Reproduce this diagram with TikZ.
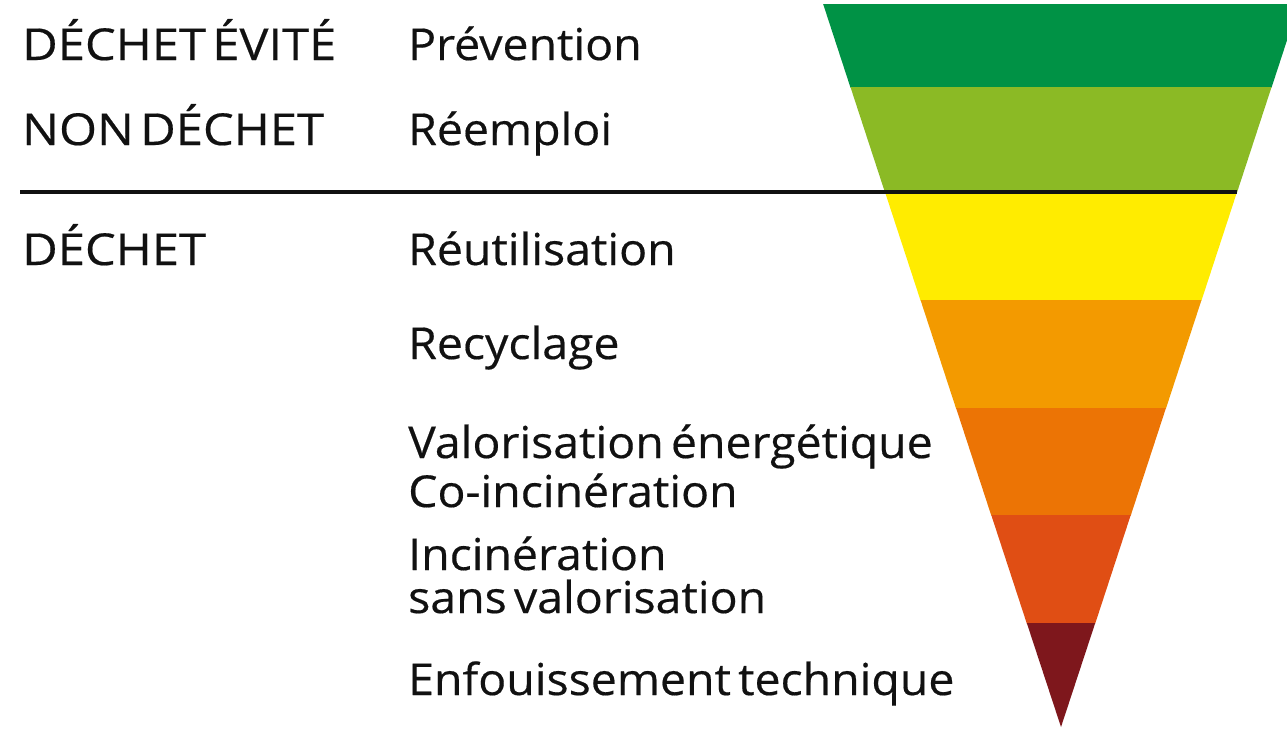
\documentclass[tikz,border=0pt]{standalone}
\usepackage{fontspec}
\setmainfont{Open Sans}[FakeStretch=1.055,FakeBold=0.4,WordSpace=0.6]
\newfontfamily\capsfont{Open Sans}[FakeStretch=1.11,FakeBold=0.4,WordSpace=0.5]
\definecolor{cA}{HTML}{009245}
\definecolor{cB}{HTML}{8BBA25}
\definecolor{cC}{HTML}{FFEC00}
\definecolor{cD}{HTML}{F39A00}
\definecolor{cE}{HTML}{EC7405}
\definecolor{cF}{HTML}{E04E14}
\definecolor{cG}{HTML}{7E171C}
\definecolor{txt}{HTML}{111111}
\begin{document}
\begin{tikzpicture}[x=1pt,y=-1pt,
  lbl/.style={anchor=base west,inner sep=0pt,text=txt,font=\fontsize{44}{50}\selectfont},
  caplbl/.style={lbl,font=\capsfont\fontsize{44}{50}\selectfont}]
\useasboundingbox (0,0) rectangle (1287,731);
\clip (0,0) rectangle (1287,731);
\def\ax{1061}\def\ay{727}\def\sl{0.329}
\foreach \ya/\yb/\c in {4/87/cA,87/193/cB,193/300/cC,300/408/cD,408/515/cE,515/623/cF}{
  \fill[\c] ({\ax-\sl*(\ay-\ya)},\ya) -- ({\ax+\sl*(\ay-\ya)},\ya) -- ({\ax+\sl*(\ay-\yb)},\yb+0.5) -- ({\ax-\sl*(\ay-\yb)},\yb+0.5) -- cycle;
}
\fill[cG] ({\ax-\sl*(\ay-623)},623) -- ({\ax+\sl*(\ay-623)},623) -- (\ax,\ay) -- cycle;
\coordinate (ls) at (20,192);
\coordinate (le) at (1237,192);
\draw[line width=4pt,txt] (ls) -- (le);
\node[caplbl] (l1) at (22,60) {DÉCHET ÉVITÉ};
\node[caplbl] (l2) at (22,145) {NON DÉCHET};
\node[caplbl] (l3) at (22,265) {DÉCHET};
\node[lbl] (t1) at (408,60) {Prévention};
\node[lbl] (t2) at (408,145) {Réemploi};
\node[lbl] (t3) at (408,265) {Réutilisation};
\node[lbl] (t4) at (408,359) {Recyclage};
\node[lbl] (t5) at (408,458) {Valorisation énergétique};
\node[lbl] (t6) at (408,507) {Co-incinération};
\node[lbl] (t7) at (408,570) {Incinération};
\node[lbl] (t8) at (408,613) {sans valorisation};
\node[lbl] (t9) at (408,695) {Enfouissement technique};
\end{tikzpicture}
\end{document}
